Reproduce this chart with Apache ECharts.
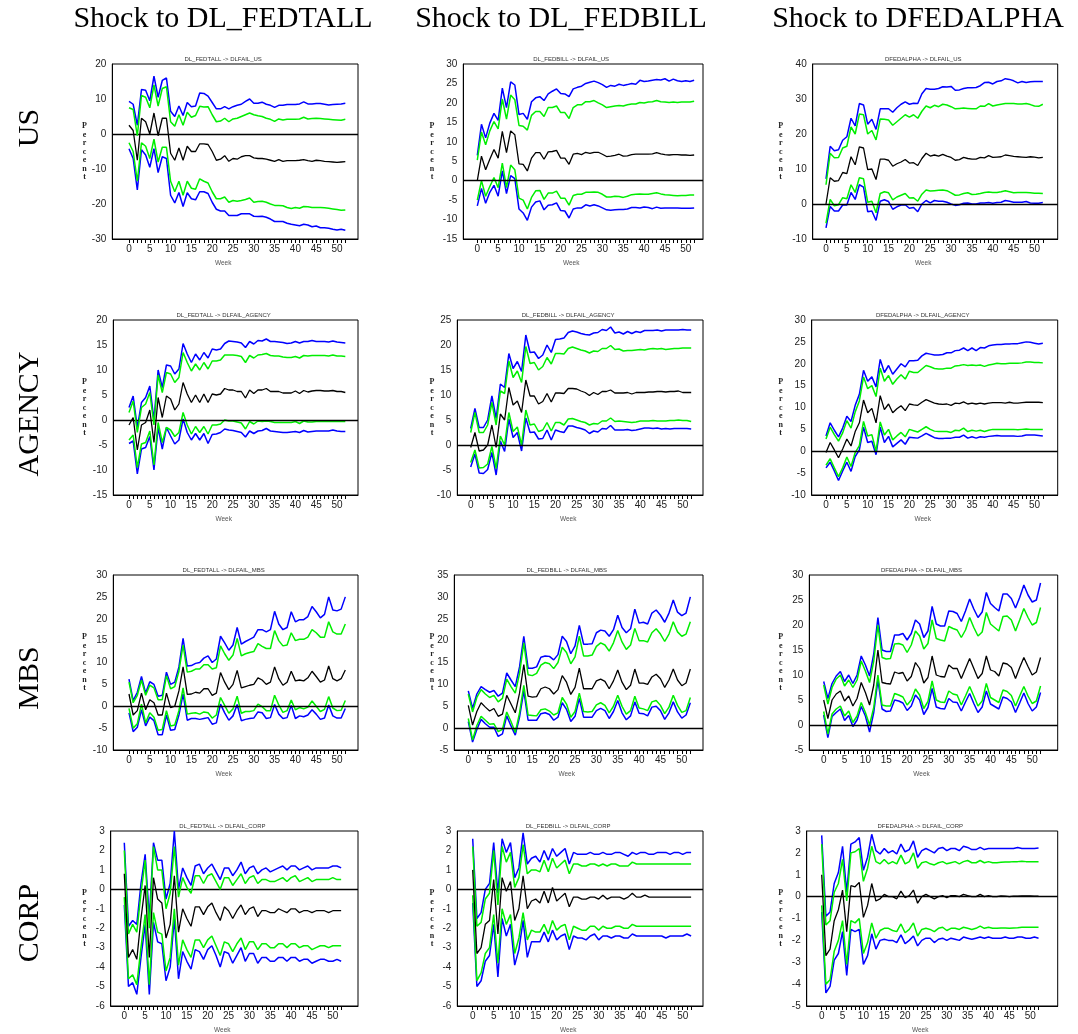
<!DOCTYPE html>
<html>
<head>
<meta charset="utf-8">
<script src="https://cdn.jsdelivr.net/npm/echarts@6/dist/echarts.min.js"></script>
<style>
html,body{margin:0;padding:0;background:#fff;}
#main{width:1078px;height:1034px;}
</style>
</head>
<body>
<div id="main"></div>
<script>
// ---------- DATA ----------
const weeks = [0,1,2,3,4,5,6,7,8,9,10,11,12,13,14,15,16,17,18,19,20,21,22,23,24,25,26,27,28,29,30,31,32,33,34,35,36,37,38,39,40,41,42,43,44,45,46,47,48,49,50,51,52];
const weekLabels = [0,5,10,15,20,25,30,35,40,45,50];
const colHeaders = ['Shock to DL_FEDTALL','Shock to DL_FEDBILL','Shock to DFEDALPHA'];
const rowHeaders = ['US','AGENCY','MBS','CORP'];

// DL_FEDTALL -> DLFAIL_US
const ftUS_mid = [2.5,1,-7.5,4.5,3.5,0,6,-0.5,4.5,4.5, -5.5,-7.5,-4,-7.5,-3.5,-5,-5,-2.8,-2.8,-3, -5,-7.5,-7.2,-6.2,-7.8,-7,-7.2,-6.5,-6.2,-6.2, -6.8,-7,-7,-7.2,-7.5,-7.8,-7.3,-7.8,-7.6,-7.6, -7.6,-7.5,-7.3,-7.6,-7.8,-7.5,-7.6,-7.8,-7.9,-8, -8.1,-8,-7.9];
const ftUS_gHi = [7.5,7,-0.5,11,10.5,7.5,14,8,13,13.5, 3.5,2.2,5.5,2.5,6.2,4.8,5.3,7.9,7.7,7.8, 5.5,3.5,3.7,4.5,3.5,4.3,4.5,5,5.5,6, 5.5,5.2,5,4.5,4.2,3.6,4.3,4,4.2,4.2, 4.2,4.3,4.8,4.3,4.4,4.5,4.4,4.3,4.2,4.1, 4,3.9,4.2];
const ftUS_bHi = [9.3,8.5,2.5,12.7,12.5,9.5,16.5,10.5,15.3,16, 6.5,5,8,5.3,9,7.8,8,11.7,11.6,10.8, 9,7.2,7.2,7.8,7.2,7.8,8.2,8.5,9.3,10, 8.8,8.8,9.1,8.5,8.2,7.6,8.2,8.2,8.4,8.4, 8.4,8.6,9.2,8.6,8.6,8.7,8.7,8.5,8.3,8.4, 8.5,8.6,8.8];
const ftUS_gLo = [-2.5,-5,-13.5,-2.5,-3.5,-7,-1.5,-8,-3.8,-3.8, -13.5,-16.5,-13.5,-17.5,-13.5,-15.5,-15.8,-12.8,-13.5,-14, -16.5,-18.5,-18.5,-18,-19.5,-19,-19.2,-19,-18.7,-18.3, -19.5,-19.3,-19.2,-19.5,-20,-20.4,-20.4,-20.5,-21,-21.3, -21,-21.2,-20.7,-20.8,-21,-21,-21,-21.1,-21.2,-21.4, -21.6,-21.8,-21.7];
const ftUS_bLo = [-4.2,-7,-16,-4.5,-6,-9.5,-4.2,-11,-6.5,-7, -17.5,-19.7,-16.7,-20.7,-16.8,-18.5,-18.8,-16.5,-16.5,-17, -19.5,-21.5,-22,-22,-23.3,-23.3,-23.3,-22.8,-22.8,-22.8, -23.5,-23.6,-23.5,-23.8,-24.3,-25,-25,-25,-25.5,-25.8, -26,-26.2,-25.8,-26,-26.5,-26.3,-26.8,-26.8,-26.9,-27.2, -27.4,-27.2,-27.5];

// DL_FEDBILL -> DLFAIL_US
const fbUS_mid = [0,6.3,2.8,5.5,8,5.8,12.7,7.2,12.8,11.8, 4.3,4.2,2.5,5.8,7.2,7.2,5.5,7.4,7.5,7.8, 5.8,5.8,4.2,6.8,7,6.7,7.3,7,7.3,7.3, 6.8,6.2,6.3,6.5,6.8,6.3,6.4,6.7,6.8,6.8, 6.8,6.8,6.9,7.2,6.9,6.7,6.6,6.7,6.7,6.6, 6.6,6.5,6.6];
const fbUS_gHi = [5.3,12.5,9.2,12.8,15.2,13.3,21,15.8,22,20.8, 14.2,14,13,16.8,17.8,17.8,16.5,18.8,18.8,19.2, 17.5,17.5,16,18.8,19.5,19.5,20.3,20.3,20.6,20, 19.5,18.8,19,19.2,19.3,19.2,19.5,19.7,19.7,20.1, 20,20.2,20.3,20.6,20.3,20.2,20.1,20.2,20.1,20.2, 20.2,20.2,20.4];
const fbUS_bHi = [6.5,14.5,11,14.8,17.3,15.5,23.8,18.8,25.4,24.6, 17,17.3,15.8,20.3,21.3,21.6,20.6,22.3,23,23.6, 22.4,22.3,21.6,23.6,24,24.3,25,25.3,25.6,25.2, 24.7,24,24.5,24.3,24.8,24.5,24.7,25,24.8,25.8, 25.5,25.6,25.8,26,25.9,26.2,25.6,26.1,25.7,25.5, 25.7,25.5,25.8];
const fbUS_gLo = [-5,0,-4,-1.5,0.8,-1.8,4.5,-1.8,4,2.8, -4.5,-5,-7.3,-4.3,-2.6,-2.5,-4.8,-3.2,-3.2,-2.7, -4.5,-4.5,-6.3,-3.8,-3.5,-3.5,-3,-3,-2.9,-3, -3.5,-4.2,-4.2,-4,-4.1,-4.3,-4,-3.6,-3.5,-3.4, -3.5,-3.5,-3.3,-3.1,-3.4,-3.6,-3.7,-3.8,-3.9,-3.8, -3.8,-3.7,-3.7];
const fbUS_bLo = [-6.5,-2,-5.8,-3,-1.2,-4,2.5,-3.3,1.3,0.5, -7.3,-8.3,-10.2,-6.8,-5.5,-5.2,-7.5,-6.3,-6.2,-5.7, -7.7,-7.8,-9.6,-7.3,-7,-7,-6.2,-6.5,-6.2,-6.5, -7,-7.5,-7.6,-7.5,-7.4,-7.4,-7.3,-6.9,-6.9,-7, -6.8,-6.9,-7.2,-6.8,-7.1,-7,-7,-7,-7,-7.1, -7.1,-7.1,-7];

// DFEDALPHA -> DLFAIL_US
const faUS_mid = [0,7.5,6.5,6.7,9,8.7,13.5,11.2,16.3,16, 9.8,10,7,12.8,12.8,12.5,10.8,11.5,12,12.7, 11.7,11.8,11,13,14.5,13.7,14,13.7,14.2,13.7, 13.3,12.5,12.7,13.3,13,12.8,12.8,13.3,13.2,13.8, 13.3,13.4,13.5,14,13.8,13.6,13.5,13.4,13.3,13.5, 13.4,13.2,13.3];
const faUS_gHi = [5.5,14.5,13.2,13.3,16,16.5,22,20,25.7,25.5, 20,21,18.3,24.3,24.2,24,22.5,23.5,24.5,25.5, 24.8,25.5,24.5,26.5,28,27.5,28.2,27.8,28.5,28.3, 27.8,27.2,27.3,27.4,27.3,27.2,27.2,28,27.9,28.7, 28,28.3,28.5,28.7,28.7,28.7,28.6,28.6,28.7,28.4, 28,27.9,28.5];
const faUS_bHi = [7.2,16.5,15.2,15.5,18.2,19.2,24.5,22.3,28.7,28.3, 22.8,24.2,21.3,27.2,27.2,27.2,26.2,27.5,28.5,29.2, 28.5,28.8,28.7,31.5,33,32.8,32.8,33,33.5,33.4, 33.6,32.5,32.6,33,33.2,33.2,33.3,33.8,34.7,34.8, 34.3,35,35.2,35.8,35.6,35.2,34.6,35,34.7,34.9, 35,35,35];
const faUS_gLo = [-5.5,1.3,-0.5,-0.2,1.8,1.5,5.5,3.3,7.5,7.2, 0.5,0.8,-2.5,3,3.5,3.2,1.2,2,2.5,3, 1.7,1.8,0.8,2.8,4,3.7,3.8,3.9,4,3.8, 3.2,2.5,2.6,3,3.2,2.7,2.8,3,3.3,3.4, 3.3,3.3,3.5,3.8,3.5,3.2,3.3,3.3,3.3,3.2, 3.1,3.1,3];
const faUS_bLo = [-6.8,-0.7,-2,-2,-0.3,-0.3,3.3,1.3,5.5,4.8, -2.2,-2,-4.7,0.8,1.2,0.7,-1.5,-0.8,-0.3,-0.2, -1.2,-1,-2.2,0,1,0.3,1,0.8,0.8,0.5, 0,-0.4,-0.2,0.2,0.3,0,0,0.3,0.3,0.4, 0.2,0.4,0.5,1,0.8,0.5,0.5,0.5,0.7,0.3, 0.2,0.2,0.4];

// DL_FEDTALL -> DLFAIL_AGENCY
const ftAG_mid = [-1,0.5,-6,-1,-0.5,2,-4.5,4.5,0.5,4.8, 4.2,2,3.2,7.5,5.2,3.5,5,3.5,5.2,3.5, 5.2,5,5.2,6.3,6,6,5.7,5.7,4.4,6, 5.3,6,6,6.3,5.7,5.7,5.7,5.4,5.4,5.4, 5.8,5.3,5.9,5.6,5.8,5.9,5.9,5.8,5.8,5.9, 5.7,5.7,5.5];
const ftAG_gHi = [1.5,3.8,-2.5,2.5,3.2,5.5,-1,9,5.5,9.5, 9.2,7.5,8.5,13.5,11.5,9.8,11.2,10,11.5,10.2, 11.8,11.8,12,13,13,13,12.9,12.7,11.5,12.9, 12.4,13,13.1,13.3,12.9,12.8,12.8,12.6,12.5,12.5, 12.7,12.4,12.9,12.8,12.9,12.9,12.9,12.9,12.8,13, 12.8,12.8,12.7];
const ftAG_bHi = [2.5,4.8,-1.5,3.5,4.5,6.8,0,10,6.5,11, 10.8,9.2,10.2,15.3,13.2,11.5,13.2,12,13.5,12.4, 14.2,14,14.2,15.3,15.8,15.7,15.6,15.4,14.5,15.7, 15.2,15.9,15.8,16.2,15.7,15.7,15.6,15.5,15.3,15.4, 15.7,15.4,15.7,15.7,15.9,15.7,15.7,15.7,15.6,15.8, 15.6,15.5,15.4];
const ftAG_gLo = [-4,-3,-9.5,-4.8,-4.5,-2.2,-9,-0.5,-4.5,-1.5, -2,-3.3,-2.5,1.5,-1,-2.8,-1.3,-2.5,-1.3,-2.8, -1,-1,-0.8,0,-0.2,-0.2,-0.4,-0.6,-1.8,-0.3, -0.8,-0.2,-0.3,-0.2,-0.3,-0.5,-0.5,-0.5,-0.5,-0.5, -0.3,-0.7,-0.2,-0.4,-0.4,-0.3,-0.3,-0.3,-0.3,-0.3, -0.3,-0.3,-0.3];
const ftAG_bLo = [-4.7,-4.2,-10.8,-5.8,-5.5,-3.3,-10,-1.5,-5.8,-1.5, -3.2,-4.8,-4,0.2,-2.5,-4,-2.7,-4,-2.7,-4.7, -2.9,-2.8,-2.5,-1.8,-2,-2.1,-2.3,-2.5,-3.4,-2.2, -2.7,-2.2,-2.1,-1.7,-2.2,-2.3,-2.4,-2.5,-2.5,-2.4, -2.3,-2.5,-2.1,-2.4,-2.3,-2.2,-2.2,-2.2,-2.2,-2, -2.2,-2.3,-2.3];

// DL_FEDBILL -> DLFAIL_AGENCY
const fbAG_mid = [-0.5,2.5,-1.2,-1,0,4,-0.5,6.2,5,11.5, 8,8.8,6.5,13,9.8,9.8,8.2,8.7,10.3,8.6, 10.4,10.4,10.3,11.3,11.3,11.2,10.8,10.5,9.9,10.5, 10.1,10.7,10.7,11,10.4,10.4,10.4,10.5,10.2,10.5, 10.5,10.5,10.6,10.6,10.7,10.7,10.6,10.7,10.7,10.8, 10.5,10.5,10.5];
const fbAG_gHi = [2.5,6.5,2.5,2.5,4,8.5,4,10.8,10.3,16.8, 13.5,14.8,12.5,19.7,16.3,16.5,15,15.7,17.5,16.2, 18.3,18.3,18.2,19.3,19.6,19.3,19,18.8,18.4,18.8, 18.7,19.3,19.3,19.9,19.1,19.2,18.8,18.9,18.9,19, 19.1,19,19.2,19.3,19.2,19.3,19.1,19.2,19.3,19.3, 19.4,19.4,19.4];
const fbAG_bHi = [3.3,7.3,3.5,3.5,5,9.8,5.3,12.2,11.5,18.3, 15.3,16.7,14.7,22,18.5,18.6,17.3,18,20,18.5, 21.1,21.2,21.4,22.5,22.8,22.6,22.3,22.1,22,22.4, 22.5,23.1,22.9,23.6,22.4,22.6,22.2,22.7,22.3,22.7, 22.5,22.9,22.9,22.9,23,22.8,23,23,23,23, 23.1,23,23];
const fbAG_gLo = [-3.5,-1,-4.6,-4.5,-3.8,-0.3,-4.7,1.8,0,6.5, 2.7,3.6,0,7,4,4.2,2.7,3,4.5,2.8, 4.5,4.5,4,5.2,5.3,5,4.7,4.5,4,4.3, 4.2,4.8,4.8,5.4,4.7,4.8,4.7,4.6,4.5,4.6, 4.8,4.8,4.8,4.9,4.8,4.8,4.8,4.9,4.9,5, 4.9,4.9,4.7];
const fbAG_bLo = [-4.4,-1.8,-5.6,-5.7,-4.9,-1.5,-6,0.8,-1.3,5.2, 1.5,2.5,-1.2,5.4,2.5,2.6,1.2,1.3,3,1, 3,2.7,2.5,3.8,3.8,3.5,3.3,3,2.3,2.8, 2.6,3.3,3.2,3.9,3,3,3,3.1,2.9,3, 3.2,3.4,3.4,3.3,3.4,3.2,3.3,3.2,3.3,3.3, 3.3,3.3,3.2];

// DFEDALPHA -> DLFAIL_AGENCY
const faAG_mid = [-0.3,2,0.3,-1.5,0.5,2.8,1.2,4.5,6.5,11.7, 8.8,9.8,6.5,12.7,9.5,10.8,8.8,9.7,10.4,9.3, 10.8,10.6,10.5,11.2,11.8,11.4,11,10.8,10.7,10.8, 10.5,11,10.9,11.3,10.8,11,10.8,11,10.8,11, 11.1,11.1,11.1,11,11.2,11,11,11.1,11.2,11.2, 11.2,11.2,11.1];
const faAG_gHi = [2.8,5.5,3.8,2.3,4.2,7,5.3,9,11.5,17, 14.3,15,12.5,19,16,17.3,15.3,16.5,17.5,16.5, 18.3,18,18,18.8,19.6,19.3,18.9,18.8,18.8,19, 19,19.5,19.6,19.8,19.6,19.7,19.6,19.7,19.4,19.7, 19.9,20.1,20,20,20.1,20.1,20.1,20.2,20.4,20.4, 20.3,20.3,20.2];
const faAG_bHi = [3.5,6.5,4.8,3.3,5.3,8,6.8,10.5,13,18.5, 16,17,14.7,21,18,19.6,17.6,18.8,20,19.3, 20.7,20.7,20.8,21.8,22.4,22.2,22,22,22.1,22.5, 22.5,23,23.1,23.6,23,23.6,23,23.7,23.6,24.1, 24.3,24.4,24.4,24.5,24.5,24.6,24.6,24.8,25,24.9, 24.7,24.5,24.7];
const faAG_gLo = [-3.2,-1.7,-3.8,-5.8,-3.8,-1.3,-3.5,-0.3,1.3,6.8, 3.5,3.8,0,6.7,3.7,5,2.6,3.5,4.3,3.3, 5,4.7,4.4,5,5.6,5,4.6,4.5,4.5,4.5, 4.3,4.8,4.7,5.3,4.5,4.8,4.6,4.8,4.5,4.8, 5,5,5,5,5,5,4.9,5,5.1,5, 5,5,5];
const faAG_bLo = [-3.8,-2.5,-4.5,-6.7,-4.5,-2.5,-4.6,-1.2,0.3,5.5, 2,2.3,-0.8,5.5,2,3.4,1,1.8,2.6,1.6, 3.2,3.1,3,3.5,4.1,3.6,3.1,2.9,2.9,3, 3,3.2,3.2,3.7,3,3.3,3,3.3,3.2,3.4, 3.5,3.6,3.5,3.5,3.5,3.5,3.4,3.5,3.7,3.7, 3.7,3.6,3.5];

// DL_FEDTALL -> DLFAIL_MBS
const ftMBS_mid = [2.8,-2,-1,3,-0.8,1.5,0.8,-2,-2,3, -0.3,0,3.5,9,2.7,2.8,3.2,3,4,4, 2.5,3,7.7,5.5,3.8,5,8.2,4.2,4.5,4.8, 5,6.5,6,5,5.5,9,6.3,4.8,5.5,8, 5.8,6,5.8,6.5,8,6.8,5.5,6,9.2,6.3, 5.8,6.3,8.3];
const ftMBS_gHi = [5.5,0.8,2.5,6,2.5,4.8,4.2,1.5,1.5,7, 4,4.5,8,14,7.8,8,8.5,8.5,9.5,9.5, 8.5,8.8,13.8,12,10.5,11.7,15.5,11.5,12,12.3, 12.5,14.3,13.7,13.2,13.2,17.3,15,13.8,14,16.8, 15,15.3,15.3,15.8,17.5,16.8,15.8,15.8,19.3,17, 16.5,16.5,18.8];
const ftMBS_bHi = [6.2,1.3,3.2,6.8,3,5.6,5,2.3,2.5,7.8, 5,5.5,9,15.5,9.2,9.3,9.8,10,11,11.5, 10,10.8,16,14.5,12.8,14,18,14.2,14.8,15.3, 15.8,17.5,17.5,17,17.5,21.7,18.8,17.5,18,21.6, 19.3,19.8,19.8,20.5,22.8,21.6,20.2,21,25,22, 21.8,22.2,25];
const ftMBS_gLo = [-0.5,-5,-4,0.5,-3.8,-1.5,-2.5,-5.5,-5.3,-1, -4.5,-4.3,-1,4.2,-1.8,-1.6,-1.5,-1.8,-1.3,-1.5, -2.7,-2,2,0.2,-1.6,-0.6,2.3,-1.6,-1.2,-1.2, -1,0.5,-0.1,-1,-1,2.5,0.3,-1.4,-1,1.4, -0.8,-0.3,-0.6,-0.2,1.2,0,-1.2,-0.7,2.2,-0.4, -1,-0.9,1.3];
const ftMBS_bLo = [-1.5,-5.8,-4.8,-0.8,-4.5,-2.5,-3.3,-6.5,-6.5,-2, -5.5,-5.3,-2,2.8,-3.2,-2.8,-2.8,-3,-2.8,-2.6, -4.1,-3.8,0.5,-1.5,-3.2,-2.2,0.4,-3.3,-3,-2.8, -2.7,-1.3,-1.5,-2.8,-2.6,0.4,-1.8,-2.8,-2.6,0.2, -2.8,-2.2,-2.4,-2,-0.8,-1.8,-3,-2.7,0.3,-2.2, -2.7,-2.7,-0.5];

// DL_FEDBILL -> DLFAIL_MBS
const fbMBS_mid = [5.2,0.7,3.8,5.8,4.8,3.9,4.5,2.7,3.2,7.5, 5.5,3.5,8,14.5,7.3,7.1,7.2,9,9.4,9, 7.8,8.8,12,10.5,7.7,9.3,13.7,9,9,9, 10.8,11.2,10.7,9,10.8,13.3,10.5,8.8,9.8,13.5, 10.3,10.3,10,11.7,12.3,11.3,9.3,11,13.5,11, 9.7,10.3,13.5];
const fbMBS_gHi = [7.8,3.7,7,8.8,7.8,7,7.5,6,6.8,11.2, 9.5,8,12.5,19.5,12.2,12,12.5,14.4,15,14.7, 13.6,15,18.5,17.3,14.7,16.3,21,16.5,16.5,16.7, 18.7,19.5,19,17.6,19.5,22.3,19.7,18,19,22.8, 20,20,19.7,21.8,22.7,21.5,19.8,21.5,24.3,22, 21,21.5,24.3];
const fbMBS_bHi = [8.5,4.5,7.8,9.5,8.8,8.2,8.6,7.3,8,12.6, 11,9.5,14,21,13.7,13.7,14,16.2,16.5,16.4, 15.6,16.8,21,19.8,17,18.8,23.5,19.2,19.2,19.3, 21.8,22.4,22.2,21,22.5,25.8,23,21.8,22.7,27.2, 24,24.2,23.8,26.3,27,25.8,24.2,26.3,29.3,26.5, 25.7,26.3,30];
const fbMBS_gLo = [2.2,-2.7,0.6,2.7,1.8,0.9,1,-0.8,-0.3,3.7, 1.5,-1,3.5,9.8,3,2.9,2.8,4.2,4.4,3.9, 3,3.5,7,5.5,2.5,3.8,8,3.8,3.7,3.8, 5.3,5.8,5.2,3.5,5,7.5,5,3.2,4,7.3, 4.6,4.4,4,6,6.3,5.2,3.3,4.8,7.5,5.2, 3.6,4,7];
const fbMBS_bLo = [1.5,-3.2,-0.3,2,1,0.2,0.2,-1.9,-1.3,2.8, 0.5,-1.6,2.5,8.5,1.8,1.8,1.8,3.3,3.5,3.1, 1.8,2.5,5.8,4.3,1.5,2.7,6.8,2.5,2.5,2.5, 4,4.5,4,2.2,3.8,6.3,3.5,1.9,2.8,6, 3.4,3.3,2.8,4.8,5,4,2,3.5,6,3.7, 2.3,3,5.8];

// DFEDALPHA -> DLFAIL_MBS
const faMBS_mid = [5,1.3,5,6.2,6.8,4.8,5.8,3.8,5.3,8.5, 6.5,4,8,15,8.5,8.3,8.2,10.6,10.3,10.5, 8.8,9.7,12.5,11.3,8.4,9.5,13.8,10,9.7,9.6, 12,11.3,11.3,9.3,11.3,13.3,11.3,9.3,10.3,13.8, 11,10.7,9.8,12.4,12.2,11.5,9.3,11.5,13.5,11.7, 10,10.6,13.5];
const faMBS_gHi = [8,4.2,7.5,9.2,10,7.8,9,7.5,9,12.8, 10.8,8.5,12.8,20,13.5,13.2,13.3,16.2,16.3,16, 14.5,16,18.8,17.8,15.2,16.3,21,17.3,17,16.8, 19.7,19.3,19,17.5,19,21.5,19.5,17.8,18.6,22.5, 20.2,19.5,18.8,21.7,21.8,21,18.8,21,23.3,21.5, 20,20.5,23.5];
const faMBS_bHi = [8.7,5.3,8.3,9.8,10.7,8.7,10,8.3,10,13.8, 12,9.8,14.2,21.5,15,14.7,14.7,18,18,18.3, 17,18.3,21,20.2,17.5,18.8,23.7,20.2,19.8,19.8, 22.8,22.7,22.3,20.7,22.8,25.2,23.2,21.5,22.6,26.5, 24.3,23.5,22.8,26.2,26.2,25.3,23.4,25.5,28,26, 24.6,25,28.4];
const faMBS_gLo = [2.7,-1.8,2.2,3.2,3.8,1.8,2.8,0.5,1.8,4.5, 2.5,0,3.5,10,4,3.8,3.8,6.3,6,5.6, 4,5,7.2,6,3.3,4.7,8.8,5,4.6,4.5, 6.8,6.2,6,4,5.8,7.7,5.8,3.8,4.8,8.3, 5.5,5,4.5,7,6.7,5.9,3.8,5.8,7.7,5.8, 4.3,4.8,7.8];
const faMBS_bLo = [2,-2.5,1.7,2.5,3.2,0.9,1.9,-0.3,1,3.7, 1.8,-1.4,2.5,9,3.2,2.7,2.8,5,4.8,4.4, 2.9,3.8,6,5,2.1,3.5,7.3,3.6,3.3,3.2, 5.3,4.6,4.5,2.8,4.6,6.3,4.3,2.5,3.6,6.8, 4.2,3.7,3.2,5.6,5.3,4.6,2.5,4.4,6.4,4.3, 2.8,3.6,6.5];

// DL_FEDTALL -> DLFAIL_CORP
const ftCO_mid = [0.8,-3.5,-3.1,-3.6,-1.5,0.2,-3.5,0.6,-0.5,-0.7, -2.5,-1.8,0.7,-2.2,-1,-1.5,-1.9,-0.9,-0.9,-1.3, -0.9,-0.7,-1.2,-1.6,-0.9,-1.1,-1.5,-1.1,-0.8,-1.3, -1,-0.9,-1.4,-1.1,-1.1,-1.2,-1.2,-1,-1.1,-1.2, -1,-1,-1.2,-1.1,-1.1,-1.2,-1.1,-1.1,-1.1,-1.2, -1.1,-1.1,-1.1];
const ftCO_gHi = [2,-2.3,-1.8,-2.2,-0.2,1.5,-2,2.2,1,1, -1,-0.2,2.2,-0.4,0.6,0.1,-0.2,0.7,0.7,0.3, 0.7,0.8,0.4,0,0.6,0.6,0.2,0.5,0.8,0.3, 0.6,0.7,0.3,0.5,0.5,0.4,0.4,0.5,0.6,0.4, 0.6,0.7,0.4,0.5,0.6,0.4,0.5,0.5,0.5,0.5, 0.6,0.5,0.5];
const ftCO_bHi = [2.4,-1.9,-1.6,-1.8,0.3,1.8,-1.5,2.4,1.5,1.5, -0.5,0.3,3,0,1.1,0.6,0.2,1.2,1.3,0.8, 1.1,1.3,0.9,0.5,1.1,1.1,0.7,1,1.4,0.8, 1.1,1.2,0.8,1,1.1,0.9,1,1.1,1.2,1, 1.2,1.2,1,1.1,1.2,1,1.1,1.1,1.1,1.1, 1.2,1.2,1.1];
const ftCO_gLo = [-0.4,-4.6,-4.4,-4.9,-3,-1.3,-4.9,-1.2,-2.2,-2.3, -4.2,-3.5,-1,-3.9,-2.6,-3.1,-3.5,-2.6,-2.6,-3, -2.6,-2.4,-2.9,-3.4,-2.7,-2.8,-3.2,-2.8,-2.5,-3.1, -2.7,-2.7,-3.1,-2.8,-2.8,-3,-3,-2.8,-2.8,-3, -2.8,-2.8,-3,-2.9,-2.9,-3.1,-3,-2.9,-2.9,-3, -2.9,-2.9,-2.9];
const ftCO_bLo = [-0.8,-5,-4.8,-5.4,-3.5,-1.8,-5.4,-1.7,-2.7,-2.8, -4.7,-4,-1.5,-4.6,-3.2,-3.7,-4.1,-3.1,-3.2,-3.6, -3.1,-2.9,-3.4,-4,-3.2,-3.3,-3.8,-3.4,-3,-3.7, -3.3,-3.3,-3.8,-3.5,-3.5,-3.7,-3.7,-3.5,-3.5,-3.7, -3.5,-3.5,-3.7,-3.6,-3.6,-3.8,-3.7,-3.6,-3.6,-3.7, -3.7,-3.6,-3.7];

// DL_FEDBILL -> DLFAIL_CORP
const fbCO_mid = [1,-3.3,-3,-1.8,-1.6,0.5,-2.3,0.6,-0.1,0.4, -1.6,-1,0.7,-1,-0.6,-0.5,-0.7,-0.1,-0.7,0.1, -0.6,-0.4,-0.2,-0.9,-0.4,-0.4,-0.5,-0.5,-0.4,-0.4, -0.5,-0.3,-0.5,-0.4,-0.4,-0.4,-0.5,-0.4,-0.2,-0.4, -0.4,-0.3,-0.4,-0.4,-0.4,-0.4,-0.4,-0.4,-0.4,-0.4, -0.4,-0.4,-0.4];
const fbCO_gHi = [2.2,-1.9,-1.7,-0.5,-0.2,2,-0.8,2.2,1.4,1.9, 0.1,0.6,2.3,0.8,1,1,0.9,1.5,0.9,1.6, 1.1,1.3,1.5,0.8,1.3,1.3,1.2,1.2,1.3,1.3, 1.2,1.3,1.2,1.3,1.3,1.2,1.2,1.2,1.4,1.3, 1.3,1.3,1.3,1.3,1.3,1.3,1.3,1.3,1.3,1.3, 1.3,1.3,1.3];
const fbCO_bHi = [2.6,-1.5,-1.2,0,0.3,2.4,-0.2,2.6,1.9,2.4, 0.6,1.1,2.9,1.3,1.6,1.7,1.4,2,1.5,2.1, 1.7,1.9,2.1,1.3,1.9,1.8,1.8,1.8,1.9,1.8, 1.8,1.9,1.8,1.8,1.9,1.9,1.8,1.7,1.9,1.8, 1.9,1.9,1.8,1.8,1.9,1.9,1.9,1.8,1.9,1.9, 1.8,1.9,1.9];
const fbCO_gLo = [-0.3,-4.7,-4.3,-3.3,-3,-1.3,-3.8,-1,-1.8,-1.3, -3.3,-2.5,-1.2,-2.6,-2.1,-2.2,-2.2,-1.8,-2.3,-1.6, -2.1,-1.9,-1.8,-2.6,-1.9,-2,-2.1,-2.1,-1.9,-1.9, -2.1,-1.9,-2,-2,-1.9,-1.9,-2,-2,-1.8,-1.9, -1.9,-1.9,-1.9,-1.9,-1.9,-1.9,-1.9,-1.9,-1.9,-1.9, -1.9,-1.9,-1.9];
const fbCO_bLo = [-0.7,-5,-4.7,-3.7,-3.4,-1.8,-4.5,-1.5,-2.4,-1.8, -3.9,-3.1,-1.6,-3.5,-2.7,-2.7,-2.7,-2.2,-2.7,-2.1, -2.6,-2.4,-2.3,-3.1,-2.4,-2.5,-2.5,-2.6,-2.4,-2.3, -2.6,-2.4,-2.4,-2.5,-2.4,-2.4,-2.5,-2.5,-2.3,-2.4, -2.4,-2.4,-2.4,-2.4,-2.4,-2.4,-2.5,-2.4,-2.4,-2.4, -2.4,-2.3,-2.4];

// DFEDALPHA -> DLFAIL_CORP
const faCO_mid = [1,-2.7,-2.4,-1.1,-0.6,0.3,-1.6,0.5,0.45,0.65, -0.95,-0.4,0.6,-0.2,-0.1,0.1,0,0,-0.1,0.25, -0.05,0.05,0.3,-0.3,0,0.1,0,-0.1,0,0.05, -0.05,0.05,0.05,0,0.1,0.05,0,0,0.1,0, 0.05,0,0,0.03,0.02,0,0.02,0.02,0.03,0.03, 0.03,0.02,0.02];
const faCO_gHi = [2.4,-1.3,-1.1,0.2,0.6,1.7,-0.2,2,2.05,2.2, 0.7,1.3,2.3,1.6,1.5,1.7,1.5,1.6,1.5,1.9, 1.5,1.6,2,1.3,1.55,1.6,1.5,1.45,1.55,1.6, 1.5,1.55,1.6,1.5,1.6,1.65,1.55,1.55,1.65,1.55, 1.6,1.55,1.55,1.57,1.58,1.58,1.6,1.6,1.62,1.6, 1.6,1.6,1.6];
const faCO_bHi = [2.8,-0.9,-0.7,0.6,1.1,2.3,0.2,2.4,2.5,2.7, 1.2,1.8,2.85,2.1,1.95,2.2,2,2.1,1.95,2.4, 2.05,2.15,2.55,1.8,2.1,2.2,2.1,2,2.2,2.25, 2.1,2.2,2.2,2.1,2.3,2.25,2.15,2.15,2.25,2.15, 2.2,2.2,2.2,2.2,2.2,2.2,2.2,2.25,2.2,2.2, 2.2,2.2,2.22];
const faCO_gLo = [-0.4,-4,-3.8,-2.5,-2,-1.1,-3.1,-1.1,-1.2,-1, -2.6,-2.1,-1.2,-1.9,-1.55,-1.45,-1.45,-1.55,-1.6,-1.25, -1.65,-1.5,-1.2,-1.8,-1.5,-1.45,-1.5,-1.6,-1.45,-1.4, -1.55,-1.45,-1.45,-1.5,-1.4,-1.45,-1.5,-1.45,-1.35,-1.45, -1.4,-1.45,-1.45,-1.43,-1.43,-1.45,-1.43,-1.42,-1.4,-1.4, -1.4,-1.4,-1.4];
const faCO_bLo = [-0.7,-4.4,-4.1,-2.9,-2.6,-1.6,-3.6,-1.5,-1.6,-1.5, -3.1,-2.7,-1.7,-2.4,-2,-1.95,-2,-2,-2.1,-1.75, -2.15,-2,-1.8,-2.25,-2,-1.9,-1.9,-2.1,-1.95,-1.9, -2,-1.9,-1.95,-2,-1.85,-1.9,-1.95,-1.9,-1.85,-1.9, -1.85,-1.9,-1.9,-1.9,-1.85,-1.9,-1.9,-1.85,-1.85,-1.9, -1.9,-1.85,-1.9];

// ---------- PANELS (axis scales + data references) ----------
const panels = [
  {title:'DL_FEDTALL -> DLFAIL_US',     ymin:-30, ymax:20, yint:10, d:[ftUS_bLo,ftUS_bHi,ftUS_gLo,ftUS_gHi,ftUS_mid]},
  {title:'DL_FEDBILL -> DLFAIL_US',     ymin:-15, ymax:30, yint:5,  d:[fbUS_bLo,fbUS_bHi,fbUS_gLo,fbUS_gHi,fbUS_mid]},
  {title:'DFEDALPHA -> DLFAIL_US',      ymin:-10, ymax:40, yint:10, d:[faUS_bLo,faUS_bHi,faUS_gLo,faUS_gHi,faUS_mid]},
  {title:'DL_FEDTALL -> DLFAIL_AGENCY', ymin:-15, ymax:20, yint:5,  d:[ftAG_bLo,ftAG_bHi,ftAG_gLo,ftAG_gHi,ftAG_mid]},
  {title:'DL_FEDBILL -> DLFAIL_AGENCY', ymin:-10, ymax:25, yint:5,  d:[fbAG_bLo,fbAG_bHi,fbAG_gLo,fbAG_gHi,fbAG_mid]},
  {title:'DFEDALPHA -> DLFAIL_AGENCY',  ymin:-10, ymax:30, yint:5,  d:[faAG_bLo,faAG_bHi,faAG_gLo,faAG_gHi,faAG_mid]},
  {title:'DL_FEDTALL -> DLFAIL_MBS',    ymin:-10, ymax:30, yint:5,  d:[ftMBS_bLo,ftMBS_bHi,ftMBS_gLo,ftMBS_gHi,ftMBS_mid]},
  {title:'DL_FEDBILL -> DLFAIL_MBS',    ymin:-5,  ymax:35, yint:5,  d:[fbMBS_bLo,fbMBS_bHi,fbMBS_gLo,fbMBS_gHi,fbMBS_mid]},
  {title:'DFEDALPHA -> DLFAIL_MBS',     ymin:-5,  ymax:30, yint:5,  d:[faMBS_bLo,faMBS_bHi,faMBS_gLo,faMBS_gHi,faMBS_mid]},
  {title:'DL_FEDTALL -> DLFAIL_CORP',   ymin:-6,  ymax:3,  yint:1,  d:[ftCO_bLo,ftCO_bHi,ftCO_gLo,ftCO_gHi,ftCO_mid]},
  {title:'DL_FEDBILL -> DLFAIL_CORP',   ymin:-6,  ymax:3,  yint:1,  d:[fbCO_bLo,fbCO_bHi,fbCO_gLo,fbCO_gHi,fbCO_mid]},
  {title:'DFEDALPHA -> DLFAIL_CORP',    ymin:-5,  ymax:3,  yint:1,  d:[faCO_bLo,faCO_bHi,faCO_gLo,faCO_gHi,faCO_mid]}
];

// ---------- LAYOUT ----------
const rowTop = [64, 320, 575, 831];
const plotH = 175;
const colRight = [358, 703, 1057.7];
const plotLeft = [112.3,463.3,812.7, 113.3,457.3,811.7, 113.3,454.3,809.3, 110.7,457.3,806.7];
const week0Px  = [129,477.3,826, 129,470.7,826, 129,468.3,823.7, 124.3,472.7,821.7];
const pxPerWeek = [4.16,4.17,4.17, 4.16,4.24,4.17, 4.16,4.27,4.17, 4.17,4.2,4.17];
const percentX = [84.5, 432, 780.7];
const headerX = [223, 561, 918];
const rowLabelY = [128, 414, 678, 923];

const seriesColors = ['#0000ff','#0000ff','#00ee00','#00ee00','#000000'];
const seriesWidths = [1.5,1.5,1.5,1.5,1.3];

const grids = [], xAxes = [], yAxes = [], series = [], graphics = [];
panels.forEach((p, i) => {
  const row = Math.floor(i / 3), col = i % 3;
  const L = plotLeft[i], R = colRight[col], top = rowTop[row];
  const x0 = week0Px[i], k = pxPerWeek[i];
  grids.push({left: L, top: top, width: R - L, height: plotH, show: true,
    borderColor: '#000', borderWidth: 1, backgroundColor: 'transparent', containLabel: false});
  xAxes.push({type: 'value', gridIndex: i, min: -(x0 - L) / k, max: (R - x0) / k,
    axisLine: {show: true, onZero: false, lineStyle: {color: '#000', width: 1}},
    axisTick: {show: true, customValues: weeks, length: 4, inside: false, lineStyle: {color: '#000', width: 1}},
    axisLabel: {customValues: weekLabels, fontSize: 10, margin: 5, color: '#222', fontFamily: 'Liberation Sans'},
    splitLine: {show: false}});
  yAxes.push({type: 'value', gridIndex: i, min: p.ymin, max: p.ymax, interval: p.yint,
    axisLine: {show: true, onZero: false, lineStyle: {color: '#000', width: 1}},
    axisTick: {show: false},
    axisLabel: {fontSize: 10, margin: 6, color: '#222', fontFamily: 'Liberation Sans'},
    splitLine: {show: false}});
  p.d.forEach((arr, j) => {
    const s = {type: 'line', xAxisIndex: i, yAxisIndex: i, symbol: 'none', showSymbol: false,
      animation: false, silent: true, z: 2 + j,
      lineStyle: {color: seriesColors[j], width: seriesWidths[j]},
      data: weeks.map((w, n) => [w, arr[n]])};
    if (j === 4) {
      s.markLine = {silent: true, symbol: ['none','none'], animation: false,
        label: {show: false}, lineStyle: {color: '#000', width: 1.3, type: 'solid'},
        data: [{yAxis: 0}]};
    }
    series.push(s);
  });
  const cx = (L + R) / 2 - 12;
  graphics.push({type: 'text', x: cx, y: top - 5, style: {text: p.title, fontSize: 6,
    fontFamily: 'Liberation Sans', fill: '#333', textAlign: 'center', textVerticalAlign: 'middle'}});
  graphics.push({type: 'text', x: cx, y: top + plotH + 24, style: {text: 'Week', fontSize: 6.5,
    fontFamily: 'Liberation Sans', fill: '#555', textAlign: 'center', textVerticalAlign: 'middle'}});
  graphics.push({type: 'text', x: percentX[col], y: top + plotH / 2, style: {text: 'P\ne\nr\nc\ne\nn\nt',
    fontSize: 8, fontWeight: 'bold', fontFamily: 'Liberation Serif', lineHeight: 8.5, fill: '#222',
    textAlign: 'center', textVerticalAlign: 'middle'}});
});
colHeaders.forEach((t, c) => {
  graphics.push({type: 'text', x: headerX[c], y: 19, style: {text: t, fontSize: 30,
    fontFamily: 'Liberation Serif', fill: '#000', textAlign: 'center', textVerticalAlign: 'middle'}});
});
rowHeaders.forEach((t, r) => {
  graphics.push({type: 'text', x: 30, y: rowLabelY[r], rotation: Math.PI / 2, style: {text: t, fontSize: 30,
    fontFamily: 'Liberation Serif', fill: '#000', textAlign: 'center', textVerticalAlign: 'middle'}});
});

const chart = echarts.init(document.getElementById('main'), null, {renderer: 'canvas'});
chart.setOption({
  backgroundColor: '#ffffff',
  animation: false,
  grid: grids, xAxis: xAxes, yAxis: yAxes, series: series, graphic: graphics
});
</script>
</body>
</html>
